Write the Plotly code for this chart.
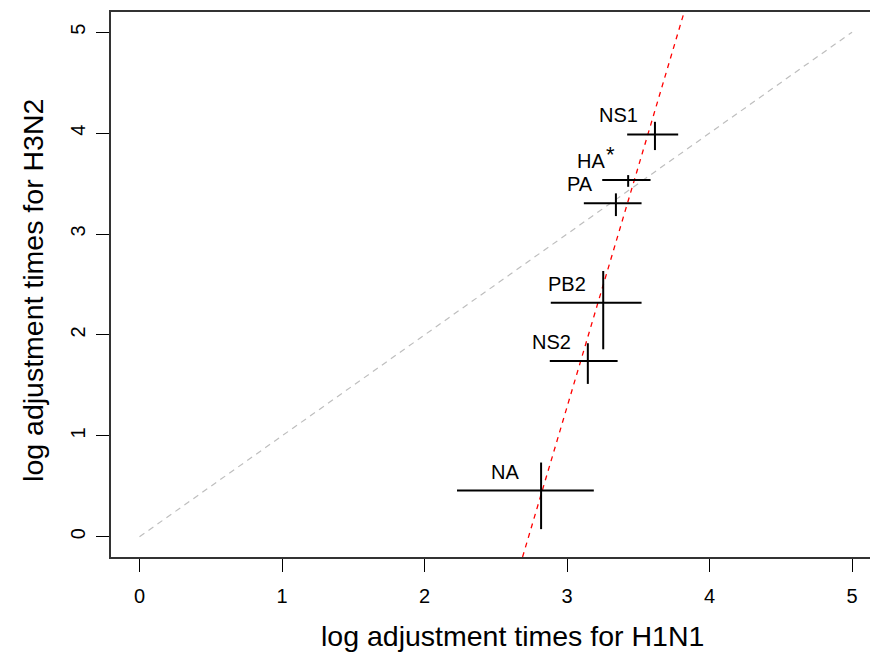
import plotly.graph_objects as go

# ---- data ----
segments = ["NS1", "HA", "PA", "PB2", "NS2", "NA"]
label_text = ["NS1", "HA", "PA", "PB2", "NS2", "NA"]
starred = ["HA"]
h1n1 = [3.617, 3.429, 3.343, 3.254, 3.146, 2.818]
h1n1_lo = [3.422, 3.247, 3.118, 2.886, 2.879, 2.228]
h1n1_hi = [3.780, 3.586, 3.523, 3.523, 3.355, 3.188]
h3n2 = [3.987, 3.535, 3.304, 2.320, 1.743, 0.458]
h3n2_lo = [3.832, 3.468, 3.178, 1.858, 1.515, 0.076]
h3n2_hi = [4.112, 3.584, 3.403, 2.634, 1.918, 0.736]
fit_intercept = -13.0
fit_slope = 4.762
identity_range = [0, 5]
x_ticks = [0, 1, 2, 3, 4, 5]
y_ticks = [0, 1, 2, 3, 4, 5]
x_range = [-0.2, 5.126]
y_range = [-0.2, 5.2]

FONT = "Liberation Sans, Arial, Helvetica, sans-serif"

fig = go.Figure()

# identity line (grey dashed)
fig.add_trace(go.Scatter(
    x=identity_range, y=identity_range, mode="lines",
    line=dict(color="#BEBEBE", width=1.2, dash="6px,5px"),
    hoverinfo="skip", showlegend=False))

# regression line (red dashed), spanning full plot height
fx0 = (y_range[0] - fit_intercept) / fit_slope
fx1 = (y_range[1] - fit_intercept) / fit_slope
fig.add_trace(go.Scatter(
    x=[fx0, fx1], y=[fit_intercept + fit_slope * fx0, fit_intercept + fit_slope * fx1],
    mode="lines", line=dict(color="#FF0000", width=1.3, dash="5px,5px"),
    hoverinfo="skip", showlegend=False))

# crosses via asymmetric error bars
fig.add_trace(go.Scatter(
    x=h1n1, y=h3n2, mode="markers",
    marker=dict(size=1, color="rgba(0,0,0,0)"),
    error_x=dict(type="data", symmetric=False,
                 array=[hi - c for hi, c in zip(h1n1_hi, h1n1)],
                 arrayminus=[c - lo for lo, c in zip(h1n1_lo, h1n1)],
                 width=0, thickness=2, color="black"),
    error_y=dict(type="data", symmetric=False,
                 array=[hi - c for hi, c in zip(h3n2_hi, h3n2)],
                 arrayminus=[c - lo for lo, c in zip(h3n2_lo, h3n2)],
                 width=0, thickness=2, color="black"),
    text=segments, hoverinfo="text", showlegend=False))

annotations = []
for xv, yv, t in zip(h1n1, h3n2, label_text):
    annotations.append(dict(x=xv, y=yv, xref="x", yref="y", text=t, showarrow=False,
                            xshift=-37 if t in starred else -36, yshift=19,
                            font=dict(family=FONT, size=20, color="black")))
    if t in starred:
        annotations.append(dict(x=xv, y=yv, xref="x", yref="y", text="*", showarrow=False,
                                xshift=-18, yshift=26,
                                font=dict(family=FONT, size=22, color="black")))

annotations.append(dict(x=0.5296, y=-0.145, xref="paper", yref="paper",
                        text="log adjustment times for H1N1", showarrow=False,
                        xanchor="center", yanchor="middle",
                        font=dict(family=FONT, size=28.5, color="black")))
annotations.append(dict(x=-0.1028, y=0.49, xref="paper", yref="paper",
                        text="log adjustment times for H3N2", showarrow=False,
                        textangle=-90, xanchor="center", yanchor="middle",
                        font=dict(family=FONT, size=28.5, color="black")))

fig.update_layout(
    width=870, height=653,
    margin=dict(l=111, r=0, t=12, b=96),
    paper_bgcolor="white", plot_bgcolor="white",
    font=dict(family=FONT, size=20, color="black"),
    annotations=annotations,
    xaxis=dict(range=x_range, tickvals=x_ticks, ticks="outside", ticklen=13,
               tickwidth=1, tickcolor="black", showgrid=False, zeroline=False,
               showline=True, linecolor="#333333", linewidth=1.5, mirror=True,
               ticklabelstandoff=7, tickfont=dict(size=20)),
    yaxis=dict(range=y_range, tickvals=y_ticks, ticks="outside", ticklen=13,
               tickwidth=1, tickcolor="black", showgrid=False, zeroline=False,
               showline=True, linecolor="#333333", linewidth=1.5, mirror=False,
               tickangle=-90, ticklabelstandoff=3, tickfont=dict(size=20)),
)

fig.write_html("out.html")
